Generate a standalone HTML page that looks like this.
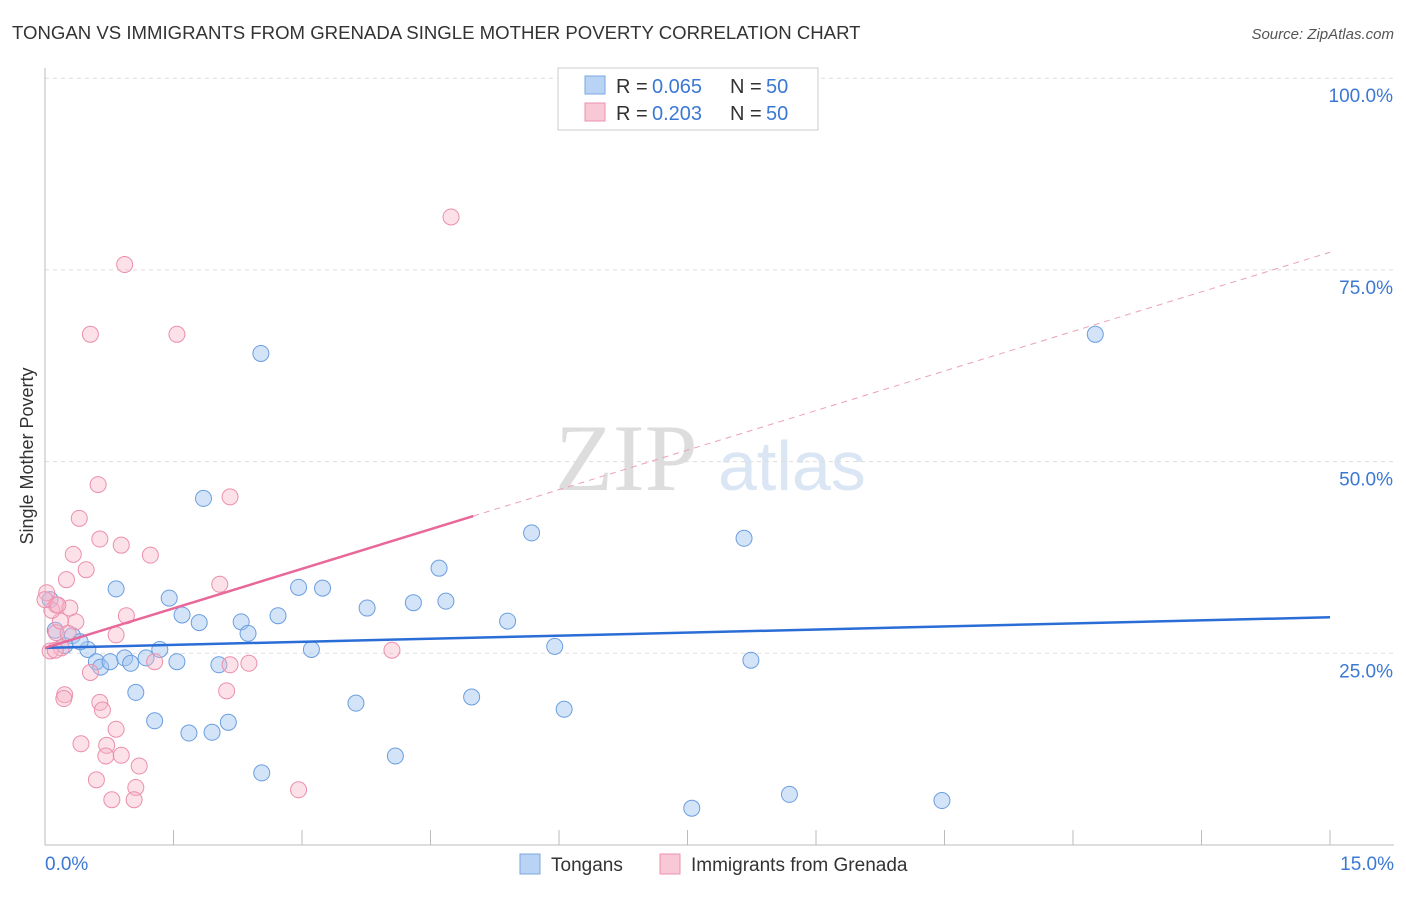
<!DOCTYPE html>
<html><head><meta charset="utf-8"><style>
body{margin:0;background:#fff;font-family:"Liberation Sans",sans-serif;}
</style></head><body>
<svg id="c" width="1406" height="892" xmlns="http://www.w3.org/2000/svg" font-family="Liberation Sans, sans-serif">
<text x="12" y="39" font-size="18.6" fill="#333">TONGAN VS IMMIGRANTS FROM GRENADA SINGLE MOTHER POVERTY CORRELATION CHART</text>
<text x="1394" y="39" font-size="15" fill="#555" text-anchor="end" font-style="italic">Source: ZipAtlas.com</text>
<text x="33" y="456" font-size="18" fill="#333" text-anchor="middle" transform="rotate(-90 33 456)">Single Mother Poverty</text>
<text x="555" y="490" font-size="95" fill="#ddd" font-family="Liberation Serif, serif">ZIP</text>
<text x="718" y="490" font-size="70" fill="#dbe6f5">atlas</text>
<g id="grid"></g><g id="pts"></g><g id="lines"></g>
<g>
<rect x="558" y="68" width="260" height="62" fill="#fff" stroke="#ccc"/>
<rect x="585" y="76" width="20" height="18" fill="#b9d3f5" stroke="#7aa7e0"/>
<text x="616" y="93" font-size="20" fill="#333">R =</text>
<text x="652" y="93" font-size="20" fill="#3b78d4">0.065</text>
<text x="730" y="93" font-size="20" fill="#333">N =</text>
<text x="766" y="93" font-size="20" fill="#3b78d4">50</text>
<rect x="585" y="103" width="20" height="18" fill="#f9c8d7" stroke="#eb92ad"/>
<text x="616" y="120" font-size="20" fill="#333">R =</text>
<text x="652" y="120" font-size="20" fill="#3b78d4">0.203</text>
<text x="730" y="120" font-size="20" fill="#333">N =</text>
<text x="766" y="120" font-size="20" fill="#3b78d4">50</text>
</g>
<g>
<rect x="520" y="854" width="20" height="20" fill="#b9d3f5" stroke="#7aa7e0"/>
<text x="551" y="871" font-size="19" fill="#333">Tongans</text>
<rect x="660" y="854" width="20" height="20" fill="#f9c8d7" stroke="#eb92ad"/>
<text x="691" y="871" font-size="19" fill="#333">Immigrants from Grenada</text>
</g>
</svg>
<script>
const blueX=[2.52,1.85,5.68,8.16,12.26,4.6,0.83,2.96,3.24,1.45,1.6,2.72,3.76,4.3,4.68,5.4,2.29,2.37,1.8,3.11,1.34,5.95,0.32,0.5,0.6,0.65,0.76,0.93,1.0,1.18,1.54,2.03,8.24,1.06,3.63,4.98,6.06,1.28,2.14,1.68,1.95,2.53,4.09,7.55,8.69,10.47,0.06,0.12,0.23,0.41];
const blueY=[64.1,45.2,40.7,40.0,66.6,36.1,33.4,33.6,33.5,32.2,30.0,29.9,30.9,31.6,31.8,29.2,29.1,27.6,29.0,25.5,25.5,25.9,27.3,25.5,23.9,23.2,23.9,24.4,23.7,24.4,23.9,23.5,24.1,19.9,18.5,19.3,17.7,16.2,16.0,14.6,14.7,9.4,11.6,4.8,6.6,5.8,32.0,28.0,26.0,26.5];
const pinkX=[4.74,0.93,0.53,1.54,0.62,2.16,0.4,0.64,0.89,0.33,1.23,0.48,0.25,2.04,0.02,0.13,0.29,0.95,0.36,0.13,0.83,0.19,4.05,1.28,2.38,2.16,0.53,2.12,0.23,0.22,0.64,0.67,0.83,0.42,0.72,0.71,0.89,1.1,0.6,1.06,2.96,0.78,1.04,0.06,0.12,0.18,0.08,0.0,0.15,0.27];
const pinkY=[81.9,75.7,66.6,66.6,47.0,45.4,42.6,39.9,39.1,37.9,37.8,35.9,34.6,34.0,32.9,31.3,30.9,29.9,29.1,27.7,27.4,25.7,25.4,23.9,23.7,23.5,22.5,20.1,19.6,19.1,18.6,17.6,15.1,13.2,13.0,11.6,11.7,10.3,8.5,7.5,7.2,5.9,5.9,25.3,25.4,29.2,30.6,32.0,31.3,27.6];
const yTicks=[25,50,75,100];
const blueTrend=[25.7,29.7];
const pinkTrend=[25.7,77.3];
const pinkSolidEnd=5.0;
const X=v=>45+v*(1285/15), Y=v=>845-v*7.668;
const NS='http://www.w3.org/2000/svg',svg=document.getElementById('c');
function mk(t,a,p){const e=document.createElementNS(NS,t);for(const k in a)e.setAttribute(k,a[k]);p.appendChild(e);return e;}
const g=document.getElementById('grid');
yTicks.forEach(t=>{
 const l=mk('line',{x1:45,x2:1394,y1:Y(t),y2:Y(t),stroke:'#ddd','stroke-dasharray':'4,4'},g);
 
 
 const tx=mk('text',{x:1393,y:Y(t)+24,'font-size':19,fill:'#3b78d4','text-anchor':'end'},g);
 tx.textContent=t.toFixed(1)+'%';
 
 
});
mk('line',{x1:45,x2:45,y1:68,y2:845,stroke:'#bbb'},g);
mk('line',{x1:45,x2:1394,y1:845,y2:845,stroke:'#bbb'},g);
for(let i=0;i<=10;i++){const x=X(i*1.5);mk('line',{x1:x,x2:x,y1:830,y2:845,stroke:'#bbb'},g);}
const t0=mk('text',{x:45,y:870,'font-size':19,fill:'#3b78d4'},g);t0.textContent='0.0%';


const t1=mk('text',{x:1394,y:870,'font-size':19,fill:'#3b78d4','text-anchor':'end'},g);t1.textContent='15.0%';


const P=document.getElementById('pts');
blueX.forEach((v,i)=>{const c=mk('circle',{cx:X(v),cy:Y(blueY[i]),r:8,fill:'rgba(160,195,240,0.45)',stroke:'#6a9ee0','stroke-width':1},P);

});
pinkX.forEach((v,i)=>{const c=mk('circle',{cx:X(v),cy:Y(pinkY[i]),r:8,fill:'rgba(248,180,200,0.4)',stroke:'#ec8fac','stroke-width':1},P);

});
const L=document.getElementById('lines');
const bl=mk('line',{x1:X(0),y1:Y(blueTrend[0]),x2:X(15),y2:Y(blueTrend[1]),stroke:'#2a6dd6','stroke-width':2.5},L);


const pe=pinkTrend[0]+(pinkTrend[1]-pinkTrend[0])*pinkSolidEnd/15;
const pl=mk('line',{x1:X(0),y1:Y(pinkTrend[0]),x2:X(pinkSolidEnd),y2:Y(pe),stroke:'#e8689a','stroke-width':2.5},L);


const pd=mk('line',{x1:X(pinkSolidEnd),y1:Y(pe),x2:X(15),y2:Y(pinkTrend[1]),stroke:'#eba0b8','stroke-width':1,'stroke-dasharray':'6,5'},L);


</script>
</body></html>
